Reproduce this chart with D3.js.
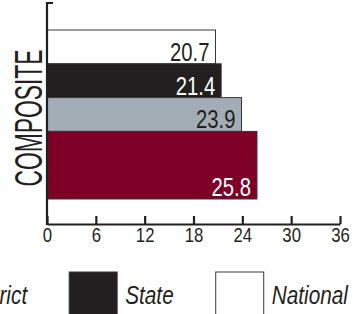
<!DOCTYPE html>
<html>
<head>
<meta charset="utf-8">
<script src="https://cdn.jsdelivr.net/npm/d3@7"></script>
<style>
  html, body { margin: 0; padding: 0; background: #fff; }
  svg { display: block; font-family: "Liberation Sans", Arial, sans-serif; }
</style>
</head>
<body>
<div id="chart"></div>
<script>
// data
const category = "COMPOSITE";
const series = ["National", "State", "District", "School"];
const values = [20.7, 21.4, 23.9, 25.8];
const xTicks = [0, 6, 12, 18, 24, 30, 36];
const legendOrder = ["School", "District", "State", "National"];

const colors = { National: "#ffffff", State: "#231f20", District: "#a3adb5", School: "#7f0026" };
const labelColors = { National: "#231f20", State: "#ffffff", District: "#231f20", School: "#ffffff" };
// School bar is drawn twice as thick as the others
const slots = { National: [0, 1], State: [1, 2], District: [2, 3], School: [3, 5] };

const width = 353;
const height = 314;
const marginLeft = 47;
const axisY = 224;
const ink = "#231f20";
const squeeze = 0.78; // fake a condensed face

const x = d3.scaleLinear([0, 36], [marginLeft, 340]);
const y = d3.scaleLinear([0, 5], [30, 199]);

const svg = d3.select("#chart").append("svg")
    .attr("width", width)
    .attr("height", height)
    .attr("viewBox", [0, 0, width, height]);

const rows = series.map((s, i) => ({ key: s, value: values[i] }));

// bars
svg.append("g")
  .selectAll("rect")
  .data(rows)
  .join("rect")
    .attr("x", x(0))
    .attr("y", d => y(slots[d.key][0]))
    .attr("width", d => x(d.value) - x(0))
    .attr("height", d => y(slots[d.key][1]) - y(slots[d.key][0]))
    .attr("fill", d => colors[d.key])
    .attr("stroke", "#3a3638")
    .attr("stroke-width", 1);

// value labels
svg.append("g")
  .selectAll("text")
  .data(rows)
  .join("text")
    .attr("transform", d => `translate(${x(d.value) - 6},${y(slots[d.key][1]) - 3}) scale(${squeeze},1)`)
    .attr("text-anchor", "end")
    .attr("font-size", 26)
    .attr("fill", d => labelColors[d.key])
    .text(d => d.value.toFixed(1));

// x axis, ticks pointing up
const xAxis = svg.append("g")
    .attr("transform", `translate(0,${axisY})`)
    .call(d3.axisBottom(x).tickValues(xTicks).tickSizeInner(-8).tickSizeOuter(0).tickPadding(14));
xAxis.select(".domain").attr("stroke", ink).attr("stroke-width", 2.2);
xAxis.selectAll(".tick line").attr("stroke", ink).attr("stroke-width", 2.2);
xAxis.selectAll(".tick text")
    .attr("font-family", "Liberation Sans, sans-serif")
    .attr("font-size", 19.5)
    .attr("fill", ink)
    .attr("dy", "0.2em")
    .attr("transform", "scale(0.86,1)");

// y axis with small cap at the top
svg.append("path")
    .attr("d", `M${x(0) + 6},3H${x(0)}V${axisY + 1}`)
    .attr("fill", "none")
    .attr("stroke", ink)
    .attr("stroke-width", 2.2);

// category label
svg.append("text")
    .attr("transform", `translate(42,118) rotate(-90)`)
    .attr("text-anchor", "middle")
    .attr("font-size", 38)
    .attr("textLength", 137)
    .attr("lengthAdjust", "spacingAndGlyphs")
    .attr("fill", ink)
    .text(category);

// legend (row is wider than the view, cropped at the left)
const legend = svg.append("g");
const sw = 48, gap = 8, itemGap = 42;
let cx = 0;
legendOrder.forEach(k => {
  const g = legend.append("g").attr("transform", `translate(${cx},0)`);
  g.append("rect")
      .attr("x", 0).attr("y", 272)
      .attr("width", sw).attr("height", 48)
      .attr("fill", colors[k])
      .attr("stroke", "#3a3638")
      .attr("stroke-width", 1);
  const t = g.append("text")
      .attr("transform", `translate(${sw + gap},304) scale(0.8,1)`)
      .attr("font-size", 26)
      .attr("font-style", "italic")
      .attr("fill", ink)
      .text(k);
  cx += sw + gap + t.node().getComputedTextLength() * 0.8 + itemGap;
});
legend.attr("transform", `translate(${348 - (cx - itemGap)},0)`);
</script>
</body>
</html>
